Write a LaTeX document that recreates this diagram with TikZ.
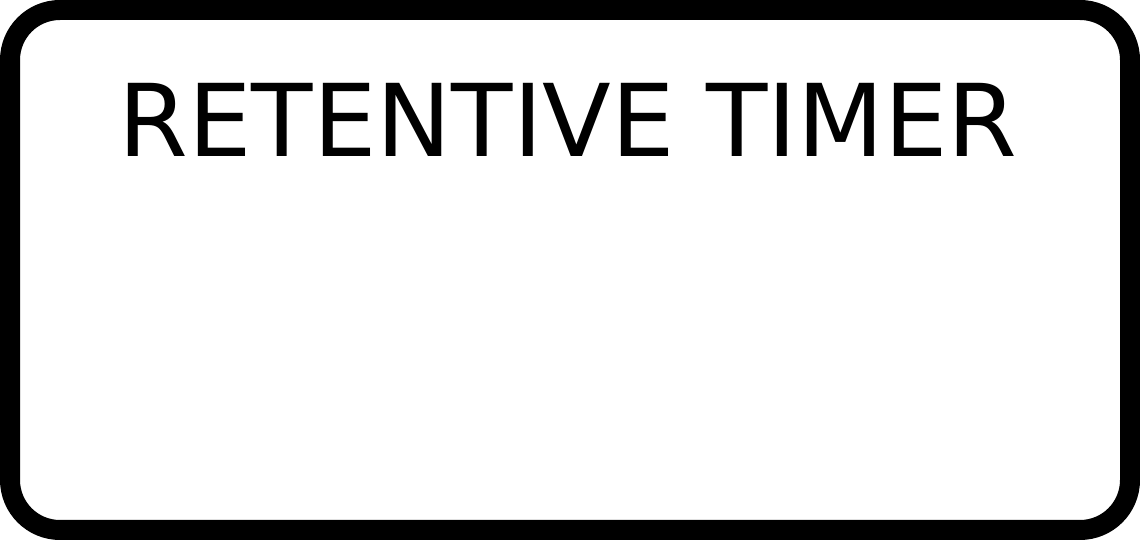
\documentclass[tikz,border=0pt]{standalone}
\usepackage{fontspec}
\setmainfont{DejaVu Sans}
\begin{document}
\begin{tikzpicture}[x=1pt,y=1pt,
  frame/.style={draw=black,line width=20pt,rounded corners=50pt,fill=white},
  title/.style={font=\fontsize{100.4}{110}\selectfont,anchor=base,inner sep=0pt}]
\useasboundingbox (0,0) rectangle (1140,540);
\draw[frame] (10,10) rectangle (1130,530);
\node[title] (t) at (568,383) {RETENTIVE TIMER};
\end{tikzpicture}
\end{document}
